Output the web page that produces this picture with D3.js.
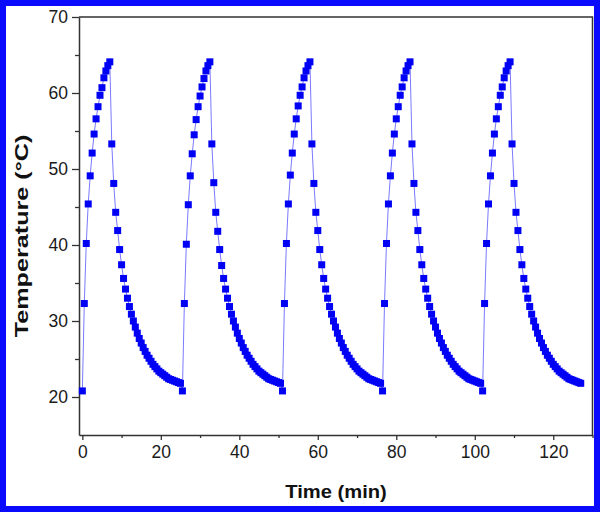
<!DOCTYPE html>
<html>
<head>
  <style>
    body { margin: 0; background: #fff; }
    .tick text { font-family: "Liberation Sans", Arial, sans-serif; font-size: 17.5px; fill: #1a1a1a; }
    .axis-title { font-family: "Liberation Sans", Arial, sans-serif; font-weight: bold; font-size: 18px; fill: #111; }
  </style>
</head>
<body>
  <script src="https://d3js.org/d3.v7.min.js"></script>
  <script>
    // start time of each heating cycle (min)
    var cycleStarts = [0, 25.5, 51, 76.5, 102];
    var sampleStep = 0.5; // min between readings

    // temperature readings (°C) for each cycle
    var cycle1 = [20.8, 32.3, 40.2, 45.4, 49.1, 52.1, 54.6, 56.6, 58.2, 59.7, 60.7, 62.0, 62.9, 63.6, 64.1,
      53.3, 48.1, 44.3, 41.9, 39.4, 37.4, 35.6, 34.2, 33.0, 31.9, 30.9, 30.0, 29.2, 28.4, 27.7, 27.1,
      26.5, 26.0, 25.5, 25.1, 24.7, 24.3, 24.0, 23.7, 23.4, 23.2, 23.0, 22.8, 22.6, 22.4, 22.3, 22.2,
      22.1, 22.0, 21.9, 21.8];
    var cycle2 = [20.8, 32.3, 40.1, 45.3, 49.1, 52.0, 54.5, 56.5, 58.2, 59.6, 60.8, 61.9, 62.9, 63.6, 64.1,
      53.3, 48.2, 44.3, 41.8, 39.4, 37.3, 35.6, 34.2, 33.0, 31.9, 30.9, 30.0, 29.2, 28.4, 27.7, 27.1,
      26.5, 26.0, 25.5, 25.1, 24.7, 24.3, 24.0, 23.7, 23.4, 23.2, 23.0, 22.8, 22.6, 22.4, 22.3, 22.2,
      22.1, 22.0, 21.9, 21.8];
    var cycle3 = [20.8, 32.3, 40.2, 45.4, 49.2, 52.1, 54.6, 56.6, 58.3, 59.7, 60.8, 62.0, 62.9, 63.6, 64.1,
      53.3, 48.1, 44.3, 41.9, 39.4, 37.4, 35.6, 34.2, 33.0, 31.9, 30.9, 30.0, 29.2, 28.4, 27.7, 27.1,
      26.5, 26.0, 25.5, 25.1, 24.7, 24.3, 24.0, 23.7, 23.4, 23.2, 23.0, 22.8, 22.6, 22.4, 22.3, 22.2,
      22.1, 22.0, 21.9, 21.8];
    var cycle4 = [20.8, 32.3, 40.2, 45.4, 49.1, 52.1, 54.6, 56.6, 58.2, 59.7, 60.8, 62.0, 62.9, 63.6, 64.1,
      53.3, 48.1, 44.3, 41.9, 39.4, 37.4, 35.6, 34.2, 33.0, 31.9, 30.9, 30.0, 29.2, 28.4, 27.7, 27.1,
      26.5, 26.0, 25.5, 25.1, 24.7, 24.3, 24.0, 23.7, 23.4, 23.2, 23.0, 22.8, 22.6, 22.4, 22.3, 22.2,
      22.1, 22.0, 21.9, 21.8];
    var cycle5 = [20.8, 32.3, 40.2, 45.4, 49.1, 52.1, 54.6, 56.6, 58.2, 59.7, 60.8, 62.0, 62.9, 63.6, 64.1,
      53.3, 48.1, 44.3, 41.9, 39.4, 37.4, 35.6, 34.2, 33.0, 31.9, 30.9, 30.0, 29.2, 28.4, 27.7, 27.1,
      26.5, 26.0, 25.5, 25.1, 24.7, 24.3, 24.0, 23.7, 23.4, 23.2, 23.0, 22.8, 22.6, 22.4, 22.3, 22.2,
      22.1, 22.0, 21.9, 21.8];
    var cycles = [cycle1, cycle2, cycle3, cycle4, cycle5];

    var xTicks = [0, 20, 40, 60, 80, 100, 120];
    var yTicks = [20, 30, 40, 50, 60, 70];
    var xMinor = [10, 30, 50, 70, 90, 110, 130];
    var yMinor = [25, 35, 45, 55, 65];

    // flatten into (time, temp) points
    var points = [];
    cycles.forEach(function (c, ci) {
      c.forEach(function (v, i) {
        points.push({ t: cycleStarts[ci] + i * sampleStep, v: v });
      });
    });

    var W = 600, H = 512;
    var plot = { left: 79, right: 592.5, top: 17, bottom: 435 };

    var svg = d3.select("body").append("svg")
      .attr("width", W)
      .attr("height", H);

    svg.append("rect")
      .attr("x", 3).attr("y", 3)
      .attr("width", W - 6).attr("height", H - 6)
      .attr("fill", "#fff")
      .attr("stroke", "#0a0aff")
      .attr("stroke-width", 6);

    var x = d3.scaleLinear().domain([-0.85, 130]).range([plot.left, plot.right]);
    var y = d3.scaleLinear().domain([15, 70]).range([plot.bottom, plot.top]);

    var axisColor = "#333";

    // frame (top and right)
    svg.append("path")
      .attr("d", "M" + plot.left + "," + plot.top + "H" + plot.right + "V" + plot.bottom)
      .attr("fill", "none")
      .attr("stroke", axisColor)
      .attr("stroke-width", 1.5);

    // x axis
    svg.append("g")
      .attr("transform", "translate(0," + plot.bottom + ")")
      .call(d3.axisBottom(x).tickValues(xTicks).tickSize(5).tickPadding(6).tickSizeOuter(0));
    svg.append("g")
      .attr("transform", "translate(0," + plot.bottom + ")")
      .call(d3.axisBottom(x).tickValues(xMinor).tickSize(3).tickFormat("").tickSizeOuter(0))
      .select(".domain").remove();

    // y axis
    svg.append("g")
      .attr("transform", "translate(" + plot.left + ",0)")
      .call(d3.axisLeft(y).tickValues(yTicks).tickSize(7).tickPadding(4).tickSizeOuter(0));
    svg.append("g")
      .attr("transform", "translate(" + plot.left + ",0)")
      .call(d3.axisLeft(y).tickValues(yMinor).tickSize(4).tickFormat("").tickSizeOuter(0))
      .select(".domain").remove();

    svg.selectAll(".domain").attr("stroke", axisColor).attr("stroke-width", 1.5);
    svg.selectAll(".tick line").attr("stroke", axisColor).attr("stroke-width", 1.3);

    // connecting line
    var line = d3.line()
      .x(function (d) { return x(d.t); })
      .y(function (d) { return y(d.v); });

    svg.append("path")
      .datum(points)
      .attr("d", line)
      .attr("fill", "none")
      .attr("stroke", "#7a7aff")
      .attr("stroke-width", 1);

    // square markers
    var s = 7;
    svg.selectAll(".pt")
      .data(points)
      .enter().append("rect")
      .attr("class", "pt")
      .attr("x", function (d) { return x(d.t) - s / 2; })
      .attr("y", function (d) { return y(d.v) - s / 2; })
      .attr("width", s)
      .attr("height", s)
      .attr("fill", "#0000f4");

    // axis titles (the original lettering is a bit stretched)
    svg.append("text")
      .attr("class", "axis-title")
      .attr("transform", "translate(336,498) scale(1.12,1.05)")
      .attr("text-anchor", "middle")
      .text("Time (min)");

    svg.append("text")
      .attr("class", "axis-title")
      .attr("transform", "translate(27.5,236) rotate(-90) scale(1.4,1)")
      .attr("text-anchor", "middle")
      .text("Temperature (°C)");
  </script>
</body>
</html>
